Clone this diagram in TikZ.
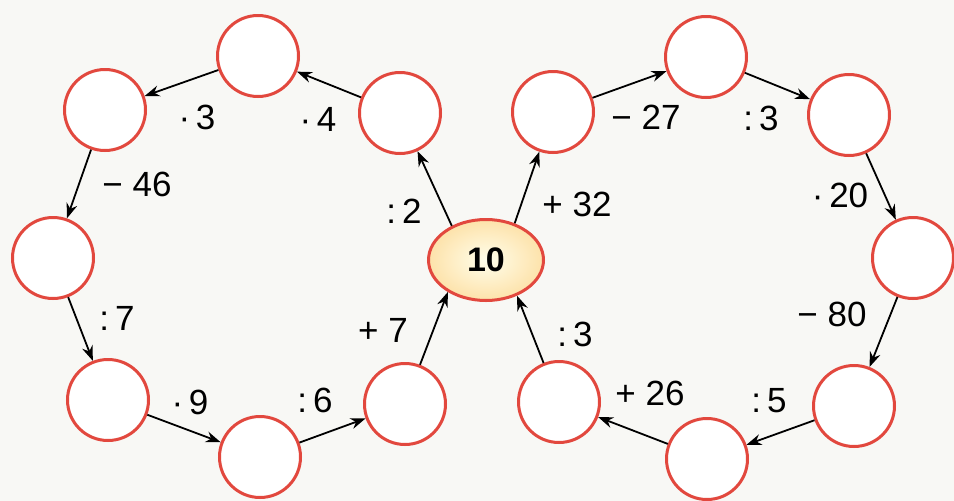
\documentclass[tikz,border=0pt]{standalone}
\usepackage{fontspec}
\setmainfont{Liberation Sans}
\usetikzlibrary{arrows.meta,shapes.geometric}
\definecolor{ringred}{RGB}{226,72,62}
\definecolor{bg}{RGB}{248,248,245}
\definecolor{hubin}{RGB}{255,254,235}
\definecolor{hubout}{RGB}{253,226,170}
\begin{document}
\begin{tikzpicture}[x=1pt,y=-1pt,
  ring/.style={circle,draw=ringred,line width=3pt,fill=white,minimum size=81pt,inner sep=0pt},
  hub/.style={ellipse,draw=ringred,line width=3pt,minimum width=115pt,minimum height=81pt,inner sep=0pt,inner color=hubin,outer color=hubout},
  arr/.style={line width=1.8pt,-{Stealth[length=15pt,width=11pt]}},
  lab/.style={font=\fontsize{35}{40}\selectfont,inner sep=0pt}]
\fill[bg] (0,0) rectangle (954,501);
\useasboundingbox (0,0) rectangle (954,501);
% left loop
\node[ring] (A) at (258,56) {};
\node[ring] (B) at (105,110) {};
\node[ring] (C) at (400,113) {};
\node[ring] (D) at (53,258) {};
\node[ring] (E1) at (108,400) {};
\node[ring] (F) at (260,457) {};
\node[ring] (G) at (405,404) {};
% hub
\node[hub,font=\fontsize{34}{38}\selectfont\bfseries] (hub) at (486,260) {10};
% right loop
\node[ring] (H) at (553,112) {};
\node[ring] (I) at (706,57) {};
\node[ring] (J) at (849,115) {};
\node[ring] (K) at (913,258) {};
\node[ring] (L) at (854,406) {};
\node[ring] (M) at (707,459) {};
\node[ring] (N) at (559,402) {};
% arrows
\draw[arr] (hub.135) -- (C);
\draw[arr] (C) -- (A);
\draw[arr] (A) -- (B);
\draw[arr] (B) -- (D);
\draw[arr] (D) -- (E1);
\draw[arr] (E1) -- (F);
\draw[arr] (F) -- (G);
\draw[arr] (G) -- (hub.220);
\draw[arr] (hub.52) -- (H);
\draw[arr] (H) -- (I);
\draw[arr] (I) -- (J);
\draw[arr] (J) -- (K);
\draw[arr] (K) -- (L);
\draw[arr] (L) -- (M);
\draw[arr] (M) -- (N);
\draw[arr] (N) -- (hub.311);
% labels
\node[lab] (l1) at (404,211) {:\,2};
\node[lab] (l2) at (318,119) {·\,4};
\node[lab] (l3) at (197,117) {·\,3};
\node[lab] (l4) at (137,184) {− 46};
\node[lab] (l5) at (117,318) {:\,7};
\node[lab] (l6) at (190,402) {·\,9};
\node[lab] (l7) at (315,400) {:\,6};
\node[lab] (l8) at (383,330) {+ 7};
\node[lab] (r1) at (577,204) {+ 32};
\node[lab] (r2) at (646,117) {− 27};
\node[lab] (r3) at (761,118) {:\,3};
\node[lab] (r4) at (840,195) {·\,20};
\node[lab] (r5) at (832,314) {− 80};
\node[lab] (r6) at (769,401) {:\,5};
\node[lab] (r7) at (650,393) {+ 26};
\node[lab] (r8) at (575,334) {:\,3};
\end{tikzpicture}
\end{document}
